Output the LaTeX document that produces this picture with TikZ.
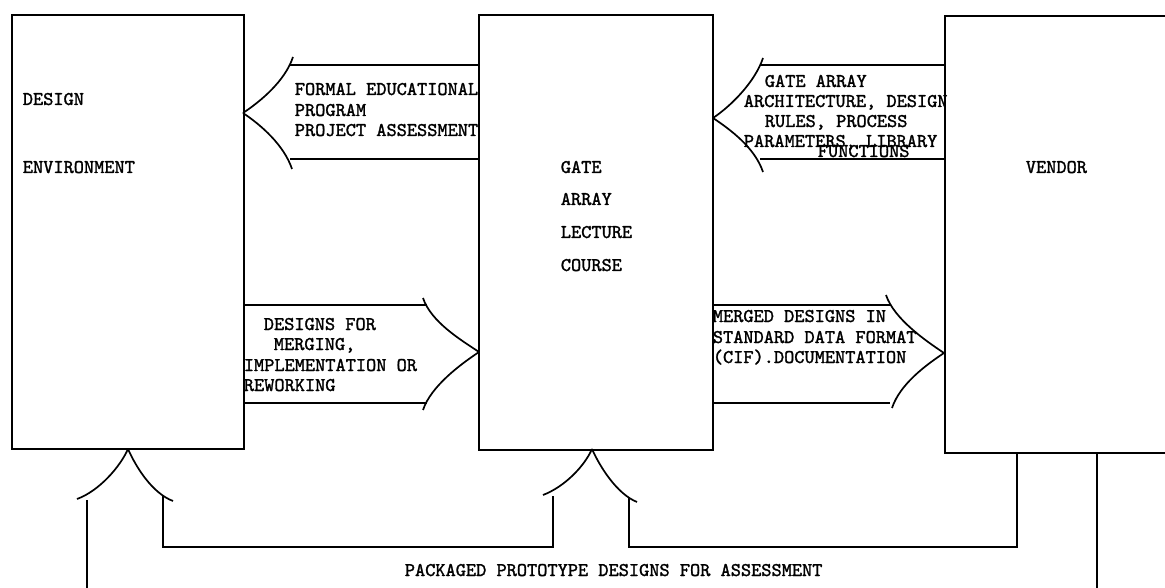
\documentclass[tikz,border=0pt]{standalone}
\usepackage{fontspec}
\newfontfamily\twfont[FakeBold=1.5]{lmmono10-regular.otf}
\newcommand\tw{\twfont\fontsize{19.4pt}{20.5pt}\selectfont}
\begin{document}
\begin{tikzpicture}[x=1pt,y=-1pt,
  every path/.style={line width=1.7pt},
  box/.style={draw, anchor=north west, inner sep=0pt, line width=1.8pt},
  lbl/.style={anchor=base west, inner sep=0pt, font=\tw}]
\fill[white] (0,0) rectangle (1165,588);
\useasboundingbox (0,0) rectangle (1165,588);

% boxes
\node[box, minimum width=232pt, minimum height=434pt] (env) at (11,14) {};
\node[box, minimum width=234pt, minimum height=435pt] (course) at (478,14) {};
\node[box, minimum width=260pt, minimum height=437pt] (vendor) at (944,15) {};

% box texts
\node[lbl] (t1) at (22,105) {DESIGN};
\node[lbl] (t2) at (22,173) {ENVIRONMENT};
\node[lbl] (t3) at (560,173) {GATE};
\node[lbl] (t4) at (560,205) {ARRAY};
\node[lbl] (t5) at (560,238) {LECTURE};
\node[lbl] (t6) at (560,271) {COURSE};
\node[lbl] (t7) at (1025,173) {VENDOR};

% ---- arrow: course -> env (top left)
\coordinate (a1) at (243,113);
\coordinate (a1u) at (293,57);
\coordinate (a1l) at (292,169);
\draw (a1) .. controls +(18,-12) and +(-8,24) .. (a1u);
\draw (a1) .. controls +(18,12) and +(-8,-24) .. (a1l);
\draw (290,65) -- (course.west |- 0,65);
\draw (290,159) -- (course.west |- 0,159);
\node[lbl] (l1a) at (294,95) {FORMAL EDUCATIONAL};
\node[lbl] (l1b) at (294,116) {PROGRAM};
\node[lbl] (l1c) at (294,136) {PROJECT ASSESSMENT};

% ---- arrow: vendor -> course (top right)
\coordinate (a2) at (713,118);
\coordinate (a2u) at (763,58);
\coordinate (a2l) at (763,172);
\draw (a2) .. controls +(18,-12) and +(-8,24) .. (a2u);
\draw (a2) .. controls +(18,12) and +(-8,-24) .. (a2l);
\draw (760,65) -- (vendor.west |- 0,65);
\draw (760,159) -- (vendor.west |- 0,159);
\node[lbl] (l2a) at (764,87) {GATE ARRAY};
\node[lbl] (l2b) at (743,107) {ARCHITECTURE, DESIGN};
\node[lbl] (l2c) at (764,127) {RULES, PROCESS};
\node[lbl] (l2d) at (743,147) {PARAMETERS, LIBRARY};
\node[lbl] (l2e) at (817,157) {FUNCTIONS};

% ---- arrow: env -> course (middle left)
\coordinate (a3) at (479,352);
\coordinate (a3u) at (423,298);
\coordinate (a3l) at (423,410);
\draw (a3) .. controls +(-18,-12) and +(8,24) .. (a3u);
\draw (a3) .. controls +(-18,12) and +(8,-24) .. (a3l);
\draw (env.east |- 0,305) -- (427,305);
\draw (env.east |- 0,403) -- (427,403);
\node[lbl] (l3a) at (263,330) {DESIGNS FOR};
\node[lbl] (l3b) at (273,350) {MERGING,};
\node[lbl] (l3c) at (243,371) {IMPLEMENTATION OR};
\node[lbl] (l3d) at (243,391) {REWORKING};

% ---- arrow: course -> vendor (middle right)
\coordinate (a4) at (944,353);
\coordinate (a4u) at (886,295);
\coordinate (a4l) at (892,408);
\draw (a4) .. controls +(-18,-12) and +(8,24) .. (a4u);
\draw (a4) .. controls +(-18,12) and +(8,-24) .. (a4l);
\draw (course.east |- 0,305) -- (890,305);
\draw (course.east |- 0,403) -- (890,403);
\node[lbl] (l4a) at (712,322) {MERGED DESIGNS IN};
\node[lbl] (l4b) at (712,343) {STANDARD DATA FORMAT};
\node[lbl] (l4c) at (712,363) {(CIF).DOCUMENTATION};

% ---- bottom: vendor -> env and course
\coordinate (b1) at (128,449);
\coordinate (b1l) at (77,499);
\coordinate (b1r) at (173,501);
\draw (b1) .. controls +(-8,18) and +(22,-8) .. (b1l);
\draw (b1) .. controls +(8,18) and +(-21,-8) .. (b1r);
\coordinate (b2) at (592,449);
\coordinate (b2l) at (543,495);
\coordinate (b2r) at (637,502);
\draw (b2) .. controls +(-8,18) and +(21,-8) .. (b2l);
\draw (b2) .. controls +(8,18) and +(-20,-8) .. (b2r);
\coordinate (s1) at (87,600);
\coordinate (s2) at (1097,600);
\draw (s1) -- (87,500);
\draw (163,496) -- (163,547) -- (553,547) -- (553,496);
\draw (629,497) -- (629,547) -- (1017,547) -- (vendor.south -| 1017,0);
\draw (vendor.south -| 1097,0) -- (s2);
\node[lbl] (l5) at (404,576) {PACKAGED PROTOTYPE DESIGNS FOR ASSESSMENT};
\end{tikzpicture}
\end{document}
